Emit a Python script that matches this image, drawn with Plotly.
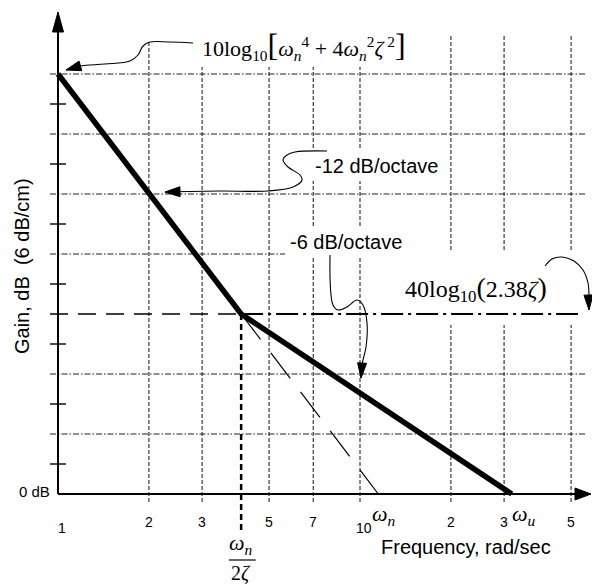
import numpy as np
import plotly.graph_objects as go

# ---------------------------------------------------------------------------
# Data: frequency grid (rad/sec), gain grid (dB) and the asymptotic gain plot
# ---------------------------------------------------------------------------
grid_freqs = [2, 3, 5, 7, 10, 20, 30, 50]
grid_gains = [12, 24, 48, 60, 72, 84]
minor_gains = [6, 18, 30, 42, 54, 66, 78]
tick_freqs = [1, 2, 3, 5, 7, 10, 20, 30, 50]
tick_labels = ["1", "2", "3", "5", "7", "10", "2", "3", "5"]

# straight-line gain plot: -12 dB/octave, then -6 dB/octave down to omega_u
asym_freq = [1.0, 4.04, 31.8]
asym_gain = [84.0, 36.0, 0.0]
# the -12 dB/octave asymptote carried on down to omega_n
ext_freq = [4.04, 11.5]
ext_gain = [36.0, 0.0]
# corner at omega_n / (2 zeta), level 40 log10(2.38 zeta)
break_freq = 4.04
break_gain = 36.0

# ---------------------------------------------------------------------------
# Figure geometry (the plot area fills the whole page)
# ---------------------------------------------------------------------------
W, H = 592, 586
X_RANGE = [-58 / 302, 534 / 302]          # log10(rad/sec)
Y_RANGE = [-18.4, 98.8]                   # dB
PX_PER_DEC = W / (X_RANGE[1] - X_RANGE[0])
PX_PER_DB = H / (Y_RANGE[1] - Y_RANGE[0])

SANS = "Liberation Sans, Arial, sans-serif"
SERIF = "Liberation Serif, Times New Roman, serif"


def to_px(f, g):
    return ((np.log10(f) - X_RANGE[0]) * PX_PER_DEC, (Y_RANGE[1] - g) * PX_PER_DB)


def from_px(x, y):
    return 10 ** (x / PX_PER_DEC + X_RANGE[0]), Y_RANGE[1] - y / PX_PER_DB


def line(x, y, width=1.0, dash="solid", color="black", shape="linear"):
    return go.Scatter(x=x, y=y, mode="lines",
                      line=dict(color=color, width=width, dash=dash, shape=shape,
                                smoothing=1.0),
                      hoverinfo="skip", showlegend=False)


def mask(f0, f1, g0, g1):
    return go.Scatter(x=[f0, f1, f1, f0, f0], y=[g0, g0, g1, g1, g0], mode="lines",
                      fill="toself", fillcolor="white", line=dict(width=0, color="white"),
                      hoverinfo="skip", showlegend=False)


def arrowhead(tip, tail, length=15, half=5):
    tx, ty = to_px(*tip)
    bx, by = to_px(*tail)
    d = np.array([tx - bx, ty - by], dtype=float)
    d /= np.hypot(*d)
    n = np.array([-d[1], d[0]])
    base = np.array([tx, ty]) - d * length
    pts = [(tx, ty), tuple(base + n * half), tuple(base - n * half), (tx, ty)]
    data = [from_px(*p) for p in pts]
    return go.Scatter(x=[p[0] for p in data], y=[p[1] for p in data], mode="lines",
                      fill="toself", fillcolor="black",
                      line=dict(color="black", width=1),
                      hoverinfo="skip", showlegend=False)


def spaced(xs, ys):
    """Join several two-point segments into one trace with gaps."""
    X, Y = [], []
    for x, y in zip(xs, ys):
        X += list(x) + [None]
        Y += list(y) + [None]
    return X, Y


traces = []

# horizontal grid (dash-dot)
f_left, f_right = from_px(50, 0)[0], from_px(585, 0)[0]
hx, hy = spaced([(f_left, f_right)] * len(grid_gains), [(g, g) for g in grid_gains])
traces.append(line(hx, hy, width=1, dash="6px,2px,1.5px,2px", color="#222"))

# vertical grid (dashed), running just below the frequency axis
g_bottom, g_top = -1.6, 91.6
vx, vy = spaced([(f, f) for f in grid_freqs], [(g_bottom, g_top)] * len(grid_freqs))
traces.append(line(vx, vy, width=1, dash="4px,2px", color="#111"))

# white boxes behind the labels
traces.append(go.Scatter(
    x=[1.85, 14.09, 14.09, 2.95, 2.95, 1.85, 1.85],
    y=[94.0, 94.0, 85.4, 85.4, 90.7, 90.7, 94.0], mode="lines", fill="toself",
    fillcolor="white", line=dict(width=0, color="white"), hoverinfo="skip",
    showlegend=False))
traces.append(mask(6.73, 18.4, 62.6, 69.2))
traces.append(mask(5.645, 14.42, 47.2, 53.4))
traces.append(mask(14.09, 55.6, 33.8, 48.8))

# minor ticks across the gain axis
f_t0, f_t1 = from_px(50, 0)[0], from_px(66, 0)[0]
tx_, ty_ = spaced([(f_t0, f_t1)] * len(minor_gains), [(g, g) for g in minor_gains])
traces.append(line(tx_, ty_, width=1.4))

# 40 log10(2.38 zeta) level
traces.append(line([f_left, break_freq], [break_gain, break_gain], width=1.3,
                   dash="18px,10px"))
traces.append(line([break_freq, from_px(578, 0)[0]], [break_gain, break_gain], width=2,
                   dash="22px,5px,3px,5px"))

# axes with arrowheads
y_tip = from_px(0, 12)[1]
x_tip = from_px(591, 0)[0]
traces.append(line([1, 1], [0, from_px(0, 26)[1]], width=2))
traces.append(line([1, from_px(578, 0)[0]], [0, 0], width=2))
traces.append(arrowhead((1, y_tip), (1, 0), length=20, half=5.5))
traces.append(arrowhead((x_tip, 0), (1, 0), length=16, half=6))

# marker line at omega_n / (2 zeta)
traces.append(line([break_freq, break_freq], [break_gain, -7.6], width=2.5,
                   dash="6px,4px"))

# -12 dB/octave asymptote continued to omega_n
traces.append(line(ext_freq, ext_gain, width=1.2, dash="32px,17px"))

# asymptotic gain plot
traces.append(line(asym_freq, asym_gain, width=5.5))

# callout leaders
c1 = ([1.063, 1.183, 1.431, 1.731, 1.840, 1.912, 2.017, 2.349, 2.799],
      [84.8, 85.6, 86.0, 86.6, 87.8, 89.6, 90.4, 90.4, 90.2])
c2 = ([2.261, 3.439, 4.921, 6.001, 6.427, 6.330, 5.775, 5.559, 5.732, 6.094, 7.776],
      [60.4, 60.6, 60.6, 61.4, 62.8, 63.8, 65.4, 66.8, 67.8, 68.4, 68.6])
c3 = ([7.955, 8.138, 8.455, 9.057, 9.774, 10.23, 10.55, 10.47, 10.15, 10.08],
      [47.8, 37.8, 36.8, 37.4, 38.8, 37.8, 34.2, 29.4, 25.8, 23.2])
c4 = ([40.99, 43.23, 46.66, 51.12, 54.75, 56.89, 57.33, 57.33],
      [45.6, 47.0, 47.4, 46.6, 44.8, 42.2, 39.6, 36.8])
for cx, cy in (c1, c2, c3, c4):
    traces.append(line(cx, cy, width=1.1, shape="spline"))
traces.append(arrowhead((c1[0][0], c1[1][0]), (c1[0][1], c1[1][1]), 15, 5))
traces.append(arrowhead((c2[0][0], c2[1][0]), (c2[0][1], c2[1][1]), 15, 5))
traces.append(arrowhead((c3[0][-1], c3[1][-1]), (c3[0][-2], c3[1][-2]), 15, 4.5))
traces.append(arrowhead((c4[0][-1], c4[1][-1]), (c4[0][-3], c4[1][-3]), 15, 4.5))

# fraction bar of omega_n / (2 zeta)
bar_gain = -13.2
traces.append(line([3.68, 4.52], [bar_gain, bar_gain], width=1.2))

fig = go.Figure(traces)

annotations = []


def ann(f, g, text, size, family=SANS, xanchor="center", yanchor="middle", **kw):
    annotations.append(dict(x=np.log10(f), y=g, xref="x", yref="y", text=text,
                            showarrow=False, xanchor=xanchor, yanchor=yanchor,
                            font=dict(family=family, size=size, color="black"), **kw))


big = "<span style='font-size:32px'>%s</span>"
ann(2.953, 89.8,
    "10log<sub>10</sub>" + big % "[" +
    "<i>ω</i><sub><i>n</i></sub><sup>4</sup> + 4<i>ω</i><sub><i>n</i></sub><sup>2</sup>"
    "<i>ζ</i><sup> 2</sup>" + big % "]",
    22, family=SERIF, xanchor="left")
ann(6.99, 65.6, "-12 dB/octave", 20, xanchor="left")
ann(5.776, 50.4, "-6 dB/octave", 20, xanchor="left")
ann(13.87, 41.0,
    "40log<sub>10</sub>" + "<span style='font-size:28px'>(</span>2.38<i>ζ</i>"
    "<span style='font-size:28px'>)</span>", 24, family=SERIF, xanchor="left")

# frequency tick labels; decade labels sit a little lower
for f, lab in zip(tick_freqs, tick_labels):
    decade = float(np.log10(f)).is_integer()
    ann(f, -6.8 if decade else -5.6, lab, 14, xshift=4 if decade else 0)

ann(12.0, -4.2, "<i>ω<sub>n</sub></i>", 22, family=SERIF)
ann(34.9, -4.2, "<i>ω<sub>u</sub></i>", 22, family=SERIF)
# omega_n / (2 zeta): numerator above the bar, denominator below it
ann(break_freq, bar_gain, "<i>ω<sub>n</sub></i>", 22, family=SERIF,
    yanchor="bottom", borderpad=0, yshift=1)
ann(break_freq, bar_gain, "2<i>ζ</i>", 20, family=SERIF,
    yanchor="top", borderpad=0, yshift=-1)
ann(22.4, -10.6, "Frequency, rad/sec", 20)
ann(0.955, 0.6, "0 dB", 15, xanchor="right")
ann(0.760, 45.6, "Gain, dB \u00a0(6 dB/cm)", 20, textangle=-90)

fig.update_layout(
    width=W, height=H,
    margin=dict(l=0, r=0, t=0, b=0),
    paper_bgcolor="white", plot_bgcolor="white",
    showlegend=False,
    xaxis=dict(type="log", range=X_RANGE, visible=False, fixedrange=True),
    yaxis=dict(range=Y_RANGE, visible=False, fixedrange=True),
    annotations=annotations,
)

fig.write_html("out.html", config={"displayModeBar": False})
